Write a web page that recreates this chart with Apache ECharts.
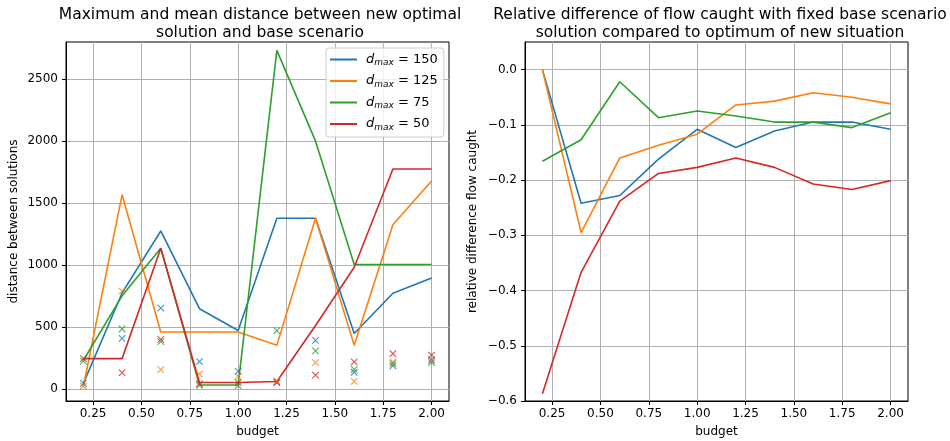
<!DOCTYPE html>
<html>
<head>
<meta charset="utf-8">
<script src="https://cdn.jsdelivr.net/npm/echarts@6/dist/echarts.min.js"></script>
<style>
  html, body { margin: 0; padding: 0; background: #fff; }
  #chart { width: 950px; height: 441px; }
</style>
</head>
<body>
<div id="chart"></div>
<script>
// Budget levels (x axis of both panels)
const budget = [0.2, 0.4, 0.6, 0.8, 1.0, 1.2, 1.4, 1.6, 1.8, 2.0];
const dmaxValues = ['150', '125', '75', '50'];
const lineColors = ['#1f77b4', '#ff7f0e', '#2ca02c', '#d62728'];

// Maximum distance between new optimal solution and base scenario
const maxDist150 = [45, 775, 1275, 648, 472, 1378, 1378, 448, 772, 895];
const maxDist125 = [22, 1568, 460, 460, 460, 352, 1378, 352, 1325, 1678];
const maxDist75  = [232, 752, 1135, 32, 32, 2732, 2000, 1005, 1005, 1005];
const maxDist50  = [245, 245, 1135, 52, 52, 60, 512, 982, 1775, 1775];

// Mean distance between new optimal solution and base scenario
const meanDist150 = [45, 408, 652, 220, 142, 55, 392, 135, 186, 236];
const meanDist125 = [22, 790, 157, 120, 102, 68, 213, 62, 218, 226];
const meanDist75  = [224, 484, 382, 30, 27, 471, 307, 159, 205, 213];
const meanDist50  = [245, 132, 400, 44, 51, 52, 111, 218, 286, 274];

// Relative difference of flow caught
const relDiff150 = [0.0, -0.242, -0.228, -0.162, -0.108, -0.141, -0.111, -0.095, -0.095, -0.108];
const relDiff125 = [0.0, -0.295, -0.160, -0.137, -0.117, -0.064, -0.057, -0.042, -0.050, -0.062];
const relDiff75  = [-0.166, -0.127, -0.022, -0.087, -0.075, -0.084, -0.095, -0.095, -0.105, -0.078];
const relDiff50  = [-0.587, -0.367, -0.238, -0.188, -0.177, -0.160, -0.177, -0.207, -0.217, -0.201];

// Tick positions
const budgetTicks = [0.25, 0.5, 0.75, 1.0, 1.25, 1.5, 1.75, 2.0];
const distTicks = [0, 500, 1000, 1500, 2000, 2500];
const relTicks = [-0.6, -0.5, -0.4, -0.3, -0.2, -0.1, 0.0];

const maxDist = [maxDist150, maxDist125, maxDist75, maxDist50];
const meanDist = [meanDist150, meanDist125, meanDist75, meanDist50];
const relDiff = [relDiff150, relDiff125, relDiff75, relDiff50];

const FONT = 'DejaVu Sans';
const seriesNames = dmaxValues.map(v => 'dmax=' + v);
const pair = (xs, ys) => xs.map((x, i) => [x, ys[i]]);

function xAxisFor(gridIndex) {
  return {
    type: 'value', gridIndex, min: 0.11, max: 2.09,
    name: 'budget', nameLocation: 'middle', nameGap: 25,
    nameTextStyle: { fontFamily: FONT, fontSize: 12, color: '#000' },
    axisLine: { show: true, onZero: false, lineStyle: { color: '#000', width: 1 } },
    axisTick: { show: true, length: 4, lineStyle: { color: '#000' }, customValues: budgetTicks },
    axisLabel: { fontFamily: FONT, fontSize: 12, color: '#000', margin: 7,
                 customValues: budgetTicks, formatter: v => v.toFixed(2) },
    splitLine: { show: true, lineStyle: { color: '#b0b0b0', width: 1 } }
  };
}

function yAxisFor(gridIndex, min, max, ticks, name, fmt) {
  return {
    type: 'value', gridIndex, min, max,
    name, nameLocation: 'middle', nameGap: 46,
    nameTextStyle: { fontFamily: FONT, fontSize: 12, color: '#000' },
    axisLine: { show: true, onZero: false, lineStyle: { color: '#000', width: 1 } },
    axisTick: { show: true, length: 4, lineStyle: { color: '#000' }, customValues: ticks },
    axisLabel: { fontFamily: FONT, fontSize: 12, color: '#000', margin: 8,
                 customValues: ticks, formatter: fmt },
    splitLine: { show: true, lineStyle: { color: '#b0b0b0', width: 1 } }
  };
}

const series = [];
// Left panel: max distance lines
maxDist.forEach((ys, k) => {
  series.push({
    type: 'line', name: seriesNames[k], xAxisIndex: 0, yAxisIndex: 0,
    data: pair(budget, ys), showSymbol: false, symbol: 'none',
    lineStyle: { color: lineColors[k], width: 1.6 }, itemStyle: { color: lineColors[k] },
    z: 2, animation: false
  });
});
// Left panel: mean distance crosses
meanDist.forEach((ys, k) => {
  series.push({
    type: 'scatter', name: seriesNames[k], xAxisIndex: 0, yAxisIndex: 0,
    data: pair(budget, ys), symbol: 'path://M0,0L10,10M10,0L0,10', symbolSize: 6.5,
    itemStyle: { color: 'rgba(0,0,0,0)', borderColor: lineColors[k], borderWidth: 1.1 },
    z: 3, animation: false
  });
});
// Right panel: relative difference lines
relDiff.forEach((ys, k) => {
  series.push({
    type: 'line', name: seriesNames[k], xAxisIndex: 1, yAxisIndex: 1,
    data: pair(budget, ys), showSymbol: false, symbol: 'none',
    lineStyle: { color: lineColors[k], width: 1.6 }, itemStyle: { color: lineColors[k] },
    z: 2, animation: false
  });
});

const gridBase = {
  top: 42, bottom: 40, show: true, borderColor: '#000', borderWidth: 1,
  backgroundColor: 'rgba(0,0,0,0)', containLabel: false, outerBoundsMode: 'none'
};

const chart = echarts.init(document.getElementById('chart'), null, { renderer: 'canvas' });
chart.setOption({
  animation: false,
  backgroundColor: '#fff',
  title: [
    { text: 'Maximum and mean distance between new optimal\nsolution and base scenario',
      left: 255, top: 1, textAlign: 'center',
      textStyle: { fontFamily: FONT, fontSize: 15.5, fontWeight: 'normal', color: '#000', lineHeight: 18 } },
    { text: 'Relative difference of flow caught with fixed base scenario\nsolution compared to optimum of new situation',
      left: 715, top: 1, textAlign: 'center',
      textStyle: { fontFamily: FONT, fontSize: 15.5, fontWeight: 'normal', color: '#000', lineHeight: 18 } }
  ],
  legend: {
    data: seriesNames, orient: 'vertical', left: 326, top: 48,
    icon: 'rect', itemWidth: 27, itemHeight: 2, itemGap: 7,
    padding: [5, 6, 5, 4],
    backgroundColor: 'rgba(255,255,255,0.8)', borderColor: '#cccccc', borderWidth: 1, borderRadius: 3,
    formatter: name => '{d|d}{s|max}{t| = ' + name.split('=')[1] + '}',
    textStyle: {
      fontFamily: FONT, color: '#000', padding: [0, 0, 0, 4],
      rich: {
        d: { fontFamily: FONT, fontSize: 13, fontStyle: 'italic', lineHeight: 16, verticalAlign: 'middle' },
        s: { fontFamily: FONT, fontSize: 9, fontStyle: 'italic', lineHeight: 16, verticalAlign: 'bottom', padding: [5, 0, 0, 0] },
        t: { fontFamily: FONT, fontSize: 13, lineHeight: 16, verticalAlign: 'middle' }
      }
    }
  },
  grid: [
    Object.assign({ left: 66, right: 501 }, gridBase),
    Object.assign({ left: 525, right: 42 }, gridBase)
  ],
  xAxis: [xAxisFor(0), xAxisFor(1)],
  yAxis: [
    yAxisFor(0, -97, 2800, distTicks, 'distance between solutions', v => String(v)),
    yAxisFor(1, -0.6, 0.05, relTicks, 'relative difference flow caught',
             v => v.toFixed(1).replace('-', '\u2212'))
  ],
  series
});
</script>
</body>
</html>
